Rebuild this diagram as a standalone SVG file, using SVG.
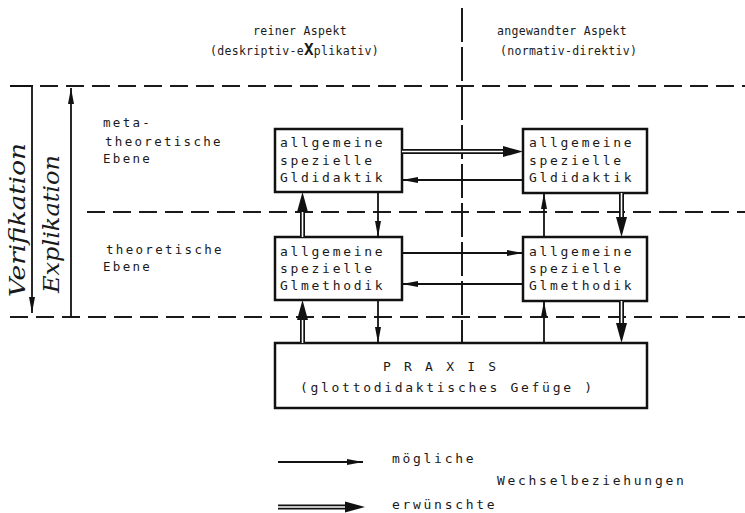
<svg xmlns="http://www.w3.org/2000/svg" width="745" height="513" viewBox="0 0 745 513">
<style>
.bg{fill:#fff}
.box{fill:#fff;stroke:#111;stroke-width:2.5}
.tw{font-family:"DejaVu Sans Mono","Liberation Mono",monospace;fill:#1a1a1a}
.bt{font-size:13px;letter-spacing:2.7px}
.hd{font-size:11.5px;letter-spacing:0.3px}
.lb{font-size:12.5px;letter-spacing:2.3px}
.hw{font-family:"DejaVu Serif","Liberation Serif",serif;font-style:italic;font-size:22px;fill:#1a1a1a}
.dash{stroke:#1a1a1a;stroke-width:2;stroke-dasharray:18 8;fill:none}
.vdash{stroke:#1a1a1a;stroke-width:2;stroke-dasharray:34 5;fill:none}
.s{stroke:#111;stroke-width:1.8;fill:none}
.dO{stroke:#111;stroke-width:5;fill:none}
.dI{stroke:#fff;stroke-width:1.6;fill:none}
</style>
<defs>
<marker id="ah" markerUnits="userSpaceOnUse" viewBox="0 0 16 8" refX="16" refY="4" markerWidth="16" markerHeight="8" orient="auto">
<path d="M0,1 L16,4 L0,7 Z" fill="#111"/>
</marker>
<marker id="ahd" markerUnits="userSpaceOnUse" viewBox="0 0 20 12" refX="0" refY="6" markerWidth="20" markerHeight="12" orient="auto">
<path d="M0,0.5 L20,6 L0,11.5 Z" fill="#111"/>
</marker>
</defs>
<rect class="bg" x="0" y="0" width="745" height="513"/>

<g id="grid">
<path class="vdash" d="M462,8 V343"/>
<path class="s" d="M10,86 H33" style="stroke-width:2"/>
<path class="dash" d="M40,86 H745"/>
<path class="dash" d="M87,212 H745"/>
<path class="dash" d="M10,317 H745"/>
</g>

<g id="headers">
<text class="tw hd" x="253" y="35">reiner Aspekt</text>
<text class="tw hd" x="210" y="55">(deskriptiv-e<tspan font-weight="bold" font-size="16px">X</tspan>plikativ)</text>
<text class="tw hd" x="497" y="35">angewandter Aspekt</text>
<text class="tw hd" x="500" y="55">(normativ-direktiv)</text>
</g>

<g id="levels">
<text class="tw lb" x="103" y="127">meta-</text>
<text class="tw lb" x="105" y="146">theoretische</text>
<text class="tw lb" x="103" y="163">Ebene</text>
<text class="tw lb" x="106" y="254">theoretische</text>
<text class="tw lb" x="103" y="271">Ebene</text>
</g>

<g id="verifikation">
<path class="s" d="M32,86 V313" marker-end="url(#ah)"/>
<text class="hw" transform="translate(25,220) rotate(-90)" text-anchor="middle" textLength="154" lengthAdjust="spacingAndGlyphs">Verifikation</text>
</g>
<g id="explikation">
<path class="s" d="M71,317 V88" marker-end="url(#ah)"/>
<text class="hw" transform="translate(59,224) rotate(-90)" text-anchor="middle" textLength="138" lengthAdjust="spacingAndGlyphs">Explikation</text>
</g>

<g id="n-meta-rein">
<rect class="box" x="275" y="129" width="127" height="63"/>
<text class="tw bt" x="280" y="147">allgemeine</text>
<text class="tw bt" x="280" y="165">spezielle</text>
<text class="tw bt" x="280" y="182">Gldidaktik</text>
</g>
<g id="n-meta-angew">
<rect class="box" x="523" y="129" width="124" height="64"/>
<text class="tw bt" x="529" y="147">allgemeine</text>
<text class="tw bt" x="529" y="165">spezielle</text>
<text class="tw bt" x="529" y="182">Gldidaktik</text>
</g>
<g id="n-theo-rein">
<rect class="box" x="275" y="237" width="127" height="63"/>
<text class="tw bt" x="280" y="256">allgemeine</text>
<text class="tw bt" x="280" y="273">spezielle</text>
<text class="tw bt" x="280" y="290">Glmethodik</text>
</g>
<g id="n-theo-angew">
<rect class="box" x="523" y="237" width="124" height="64"/>
<text class="tw bt" x="529" y="256">allgemeine</text>
<text class="tw bt" x="529" y="273">spezielle</text>
<text class="tw bt" x="529" y="290">Glmethodik</text>
</g>
<g id="n-praxis">
<rect class="box" x="275" y="343" width="372" height="65"/>
<text class="tw bt" x="383" y="371">P R A X I S</text>
<text class="tw bt" x="300" y="392">(glottodidaktisches Gefüge )</text>
</g>

<g id="connectors">
<path class="dO" d="M402,151.5 H503"/><path class="dI" d="M402,151.5 H503" marker-end="url(#ahd)"/>
<path class="s" d="M523,180 H402" marker-end="url(#ah)"/>
<path class="s" d="M402,253 H523" marker-end="url(#ah)"/>
<path class="s" d="M523,284 H402" marker-end="url(#ah)"/>
<path class="dO" d="M302.5,237 V212"/><path class="dI" d="M302.5,237 V212" marker-end="url(#ahd)"/>
<path class="s" d="M378,192 V237" marker-end="url(#ah)"/>
<path class="s" d="M544,237 V193" marker-end="url(#ah)"/>
<path class="dO" d="M621.5,193 V217"/><path class="dI" d="M621.5,193 V217" marker-end="url(#ahd)"/>
<path class="dO" d="M302.5,343 V320"/><path class="dI" d="M302.5,343 V320" marker-end="url(#ahd)"/>
<path class="s" d="M378,300 V343" marker-end="url(#ah)"/>
<path class="s" d="M544,343 V301" marker-end="url(#ah)"/>
<path class="dO" d="M621.5,301 V323"/><path class="dI" d="M621.5,301 V323" marker-end="url(#ahd)"/>
</g>

<g id="legend">
<path class="s" d="M278,462 H363" marker-end="url(#ah)"/>
<path class="dO" d="M278,507 H345"/><path class="dI" d="M278,507 H345" marker-end="url(#ahd)"/>
<text class="tw bt" x="392" y="463">mögliche</text>
<text class="tw bt" x="497" y="485">Wechselbeziehungen</text>
<text class="tw bt" x="392" y="509">erwünschte</text>
</g>
</svg>
